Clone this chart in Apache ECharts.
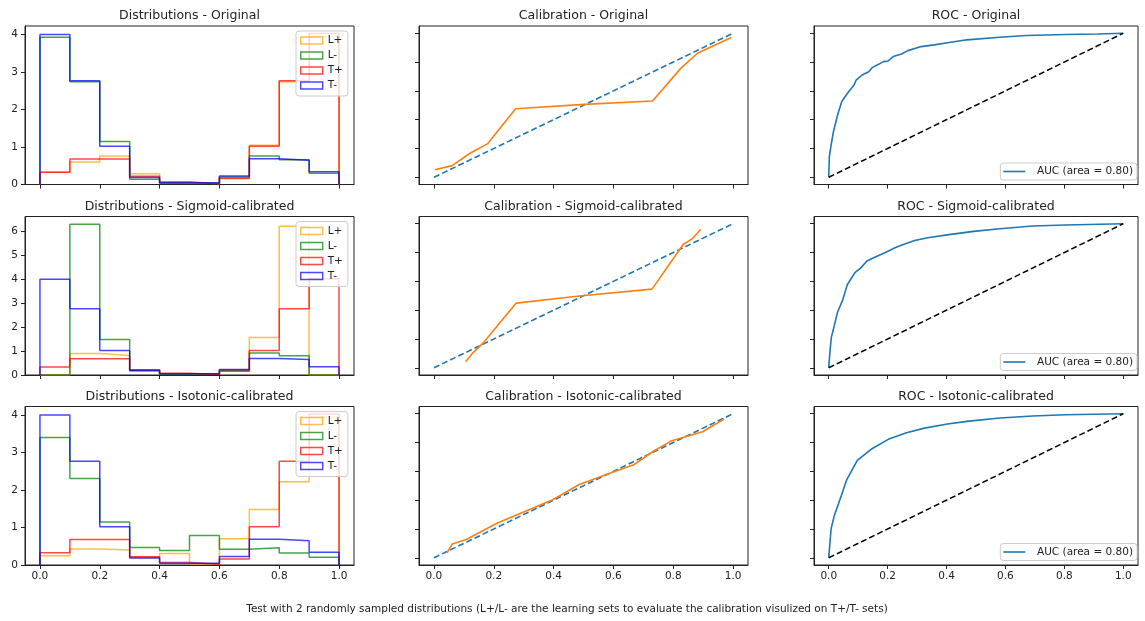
<!DOCTYPE html>
<html>
<head>
<meta charset="utf-8">
<script src="https://cdn.jsdelivr.net/npm/echarts@6/dist/echarts.min.js"></script>
<style>
  html, body { margin: 0; padding: 0; background: #fff; }
  #chart { width: 1145px; height: 621px; }
</style>
</head>
<body>
<div id="chart"></div>
<script>
// histogram bin edges (density histograms, 10 bins)
const binEdges = [0, 0.1, 0.2, 0.3, 0.4, 0.5, 0.6, 0.7, 0.8, 0.9, 1.0]

// test sets, same in every row
const tPlus = [0.33, 0.68, 0.68, 0.22, 0.07, 0.02, 0.16, 1.02, 2.77, 4.03]
const tMinus = [4.0, 2.77, 1.02, 0.19, 0.05, 0.05, 0.23, 0.69, 0.65, 0.34]

// learning sets
const lPlusOrig = [0.33, 0.6, 0.76, 0.29, 0.06, 0.03, 0.18, 1.05, 2.74, 3.95]
const lMinusOrig = [3.93, 2.74, 1.15, 0.14, 0.03, 0.03, 0.2, 0.76, 0.66, 0.3]
const lPlusSig = [0, 0.9, 0.82, 0.22, 0.05, 0.05, 0.2, 1.57, 6.22, 0]
const lMinusSig = [0, 6.31, 1.48, 0.18, 0.03, 0.03, 0.2, 0.92, 0.8, 0]
const lPlusIso = [0.25, 0.43, 0.4, 0.2, 0.31, 0.03, 0.7, 1.48, 2.22, 3.95]
const lMinusIso = [3.4, 2.31, 1.15, 0.47, 0.39, 0.79, 0.42, 0.46, 0.32, 0.21]

// calibration curves
const calXOrig = [0.003, 0.061, 0.119, 0.18, 0.273, 0.503, 0.731, 0.825, 0.881, 0.994]
const calYOrig = [0.053, 0.081, 0.165, 0.234, 0.476, 0.506, 0.529, 0.756, 0.861, 0.97]
const calXSig = [0.106, 0.13, 0.164, 0.275, 0.486, 0.729, 0.833, 0.864, 0.892]
const calYSig = [0.042, 0.104, 0.171, 0.449, 0.498, 0.546, 0.856, 0.896, 0.961]
const calXIso = [0.044, 0.061, 0.108, 0.152, 0.214, 0.286, 0.397, 0.486, 0.597, 0.67, 0.731, 0.792, 0.853, 0.898, 0.97]
const calYIso = [0.035, 0.095, 0.127, 0.176, 0.243, 0.306, 0.403, 0.509, 0.593, 0.648, 0.736, 0.81, 0.847, 0.875, 0.963]

// ROC curves
const rocXOrig = [0, 0.002, 0.008, 0.016, 0.03, 0.044, 0.063, 0.086, 0.093, 0.113, 0.136, 0.147, 0.169, 0.186, 0.202, 0.219, 0.247, 0.269, 0.314, 0.358, 0.414, 0.469, 0.581, 0.67, 0.803, 0.914, 1]
const rocYOrig = [0, 0.142, 0.223, 0.316, 0.432, 0.524, 0.582, 0.64, 0.675, 0.71, 0.733, 0.761, 0.784, 0.803, 0.807, 0.838, 0.856, 0.879, 0.907, 0.919, 0.937, 0.954, 0.972, 0.984, 0.991, 0.995, 1]
const rocXSig = [0, 0.004, 0.009, 0.019, 0.03, 0.047, 0.063, 0.089, 0.108, 0.13, 0.158, 0.191, 0.225, 0.253, 0.292, 0.336, 0.414, 0.492, 0.581, 0.692, 0.803, 1]
const rocYSig = [0, 0.109, 0.213, 0.294, 0.387, 0.468, 0.576, 0.66, 0.692, 0.741, 0.769, 0.799, 0.833, 0.856, 0.884, 0.903, 0.926, 0.947, 0.965, 0.984, 0.991, 1]
const rocXIso = [0, 0.008, 0.019, 0.041, 0.06, 0.097, 0.147, 0.202, 0.264, 0.325, 0.403, 0.469, 0.581, 0.692, 0.803, 1]
const rocYIso = [0, 0.201, 0.294, 0.421, 0.537, 0.676, 0.757, 0.822, 0.868, 0.9, 0.928, 0.947, 0.97, 0.984, 0.993, 1]

const diagX = [0, 1]
const diagY = [0, 1]

const unitTicks = [0, 0.2, 0.4, 0.6, 0.8, 1.0]
const histMax = [4.23, 6.63, 4.23]
const histTicks = [[0, 1, 2, 3, 4], [0, 1, 2, 3, 4, 5, 6], [0, 1, 2, 3, 4]]

const rowNames = ['Original', 'Sigmoid-calibrated', 'Isotonic-calibrated']
const lPlusRows = [lPlusOrig, lPlusSig, lPlusIso]
const lMinusRows = [lMinusOrig, lMinusSig, lMinusIso]
const calRows = [[calXOrig, calYOrig], [calXSig, calYSig], [calXIso, calYIso]]
const rocRows = [[rocXOrig, rocYOrig], [rocXSig, rocYSig], [rocXIso, rocYIso]]

const histColors = { 'L+': '#ffa500', 'L-': '#008000', 'T+': '#ff0000', 'T-': '#0000ff' }
const font = 'DejaVu Sans'
const ink = '#222'

// layout
const cols = [
  { left: 25, width: 329 },
  { left: 419, width: 329 },
  { left: 814, width: 324 },
]
const rowTops = [26, 216.5, 406.5]
const gridH = 158.5

const zip = (xs, ys) => xs.map((x, i) => [x, ys[i]])

// step outline like histtype='step'
function stepPoints(vals) {
  const pts = [[binEdges[0], 0]]
  vals.forEach((v, i) => {
    pts.push([binEdges[i], v])
    pts.push([binEdges[i + 1], v])
  })
  pts.push([binEdges[binEdges.length - 1], 0])
  return pts
}

const grid = []
const xAxis = []
const yAxis = []
const series = []
const legend = []
const graphic = []

rowTops.forEach((top, r) => {
  cols.forEach((col, c) => {
    const gi = grid.length
    grid.push({
      left: col.left,
      top: top,
      width: col.width,
      height: gridH,
      show: true,
      borderColor: ink,
      borderWidth: 1,
      backgroundColor: 'transparent',
    })
    xAxis.push({
      type: 'value',
      gridIndex: gi,
      min: -0.05,
      max: 1.05,
      axisLine: { show: true, onZero: false, lineStyle: { color: ink, width: 1 } },
      axisTick: { show: true, customValues: unitTicks, length: 4, lineStyle: { color: ink } },
      axisLabel: {
        show: r === 2,
        customValues: unitTicks,
        formatter: v => v.toFixed(1),
        fontSize: 10.5,
        fontFamily: font,
        color: ink,
        margin: 6,
      },
      splitLine: { show: false },
    })
    const isHist = c === 0
    yAxis.push({
      type: 'value',
      gridIndex: gi,
      min: isHist ? 0 : -0.05,
      max: isHist ? histMax[r] : 1.05,
      axisLine: { show: true, onZero: false, lineStyle: { color: ink, width: 1 } },
      axisTick: { show: true, customValues: isHist ? histTicks[r] : unitTicks, length: 4, lineStyle: { color: ink } },
      axisLabel: {
        show: isHist,
        customValues: isHist ? histTicks[r] : unitTicks,
        fontSize: 10.5,
        fontFamily: font,
        color: ink,
        margin: 7,
      },
      splitLine: { show: false },
    })

    const title = ['Distributions', 'Calibration', 'ROC'][c] + ' - ' + rowNames[r]
    graphic.push({
      type: 'text',
      x: col.left + col.width / 2,
      y: top - 10,
      style: { text: title, font: '12.5px ' + font, fill: ink, align: 'center', verticalAlign: 'middle' },
    })

    const base = { type: 'line', xAxisIndex: gi, yAxisIndex: gi, symbol: 'none', animation: false, silent: true }
    if (c === 0) {
      const sets = [
        ['L+', lPlusRows[r]],
        ['L-', lMinusRows[r]],
        ['T+', tPlus],
        ['T-', tMinus],
      ]
      sets.forEach(([name, vals]) => {
        series.push({
          ...base,
          name,
          data: stepPoints(vals),
          itemStyle: { color: histColors[name] },
          lineStyle: { color: histColors[name], width: 1.5, opacity: 0.72 },
        })
      })
      legend.push({
        orient: 'vertical',
        left: 296,
        top: top + 5,
        selectedMode: false,
        itemWidth: 22,
        itemHeight: 7,
        itemGap: 4,
        padding: [4, 5, 5, 4],
        backgroundColor: 'rgba(255,255,255,0.8)',
        borderColor: '#ccc',
        borderWidth: 1,
        borderRadius: 3,
        textStyle: { fontSize: 10.5, fontFamily: font, color: ink },
        data: Object.keys(histColors).map(name => ({
          name,
          icon: 'rect',
          itemStyle: { color: 'rgba(0,0,0,0)', borderColor: histColors[name], borderWidth: 1.4, opacity: 0.72 },
        })),
      })
    } else if (c === 1) {
      series.push({
        ...base,
        name: 'perfect',
        data: zip(diagX, diagY),
        lineStyle: { color: '#1f77b4', width: 1.6, type: [6, 3] },
      })
      series.push({
        ...base,
        name: 'calibration',
        data: zip(calRows[r][0], calRows[r][1]),
        lineStyle: { color: '#ff7f0e', width: 1.6 },
      })
    } else {
      series.push({
        ...base,
        name: 'AUC (area = 0.80)',
        data: zip(rocRows[r][0], rocRows[r][1]),
        itemStyle: { color: '#1f77b4' },
        lineStyle: { color: '#1f77b4', width: 1.6 },
      })
      series.push({
        ...base,
        name: 'chance',
        data: zip(diagX, diagY),
        lineStyle: { color: '#000', width: 1.5, type: [6, 3] },
      })
      legend.push({
        right: 8,
        top: top + 137,
        selectedMode: false,
        itemWidth: 22,
        itemHeight: 1.6,
        padding: [3, 4, 3, 3],
        backgroundColor: 'rgba(255,255,255,0.8)',
        borderColor: '#ccc',
        borderWidth: 1,
        borderRadius: 3,
        formatter: name => '  ' + name,
        textStyle: { fontSize: 10.5, fontFamily: font, color: ink },
        data: [{ name: 'AUC (area = 0.80)', icon: 'rect', itemStyle: { color: '#1f77b4' } }],
      })
    }
  })
})

graphic.push({
  type: 'text',
  x: 567,
  y: 609,
  style: {
    text: 'Test with 2 randomly sampled distributions (L+/L- are the learning sets to evaluate the calibration visulized on T+/T- sets)',
    font: '10.5px ' + font,
    fill: ink,
    align: 'center',
    verticalAlign: 'middle',
  },
})

const chart = echarts.init(document.getElementById('chart'), null, { renderer: 'canvas' })
chart.setOption({
  backgroundColor: '#fff',
  animation: false,
  grid,
  xAxis,
  yAxis,
  legend,
  graphic,
  series,
})
</script>
</body>
</html>
